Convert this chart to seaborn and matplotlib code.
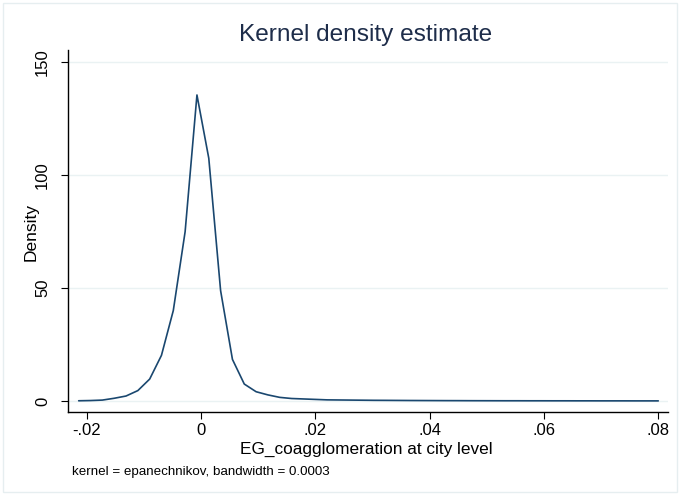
import matplotlib
matplotlib.use("Agg")
import matplotlib.pyplot as plt
import seaborn as sns
import pandas as pd
from matplotlib.patches import Rectangle

# ---- data ----
x_vals = [-0.02140, -0.01933, -0.01726, -0.01519, -0.01312, -0.01105, -0.00898, -0.00692,
          -0.00485, -0.00278, -0.00071, 0.00136, 0.00343, 0.00550, 0.00757, 0.00964,
          0.01170, 0.01378, 0.01585, 0.01792, 0.01999, 0.02206, 0.02413, 0.02619,
          0.02826, 0.03033, 0.03240, 0.03447, 0.03654, 0.03861, 0.04068, 0.04275,
          0.04482, 0.04689, 0.04896, 0.05103, 0.05310, 0.05517, 0.05724, 0.05931,
          0.06138, 0.06344, 0.06551, 0.06758, 0.06965, 0.07172, 0.07379, 0.07586,
          0.07793, 0.08000]
density = [0.1, 0.2, 0.4, 1.2, 2.2, 4.6, 9.7, 20.2, 40.0, 74.9, 135.4, 107.4, 48.8,
           18.4, 7.5, 4.1, 2.7, 1.6, 1.1, 0.9, 0.7, 0.5, 0.45, 0.4, 0.35, 0.3, 0.28,
           0.25, 0.22, 0.2, 0.18, 0.16, 0.15, 0.13, 0.12, 0.11, 0.1, 0.1, 0.09, 0.09,
           0.08, 0.08, 0.07, 0.07, 0.06, 0.06, 0.06, 0.05, 0.05, 0.05]
x_ticks = [-0.02, 0.0, 0.02, 0.04, 0.06, 0.08]
x_tick_labels = ["-.02", "0", ".02", ".04", ".06", ".08"]
y_ticks = [0, 50, 100, 150]
y_tick_labels = ["0", "50", "100", "150"]
title = "Kernel density estimate"
x_label = "EG_coagglomeration at city level"
y_label = "Density"
note = "kernel = epanechnikov, bandwidth = 0.0003"

df = pd.DataFrame({"x": x_vals, "density": density})

sns.set_theme(style="white")
plt.rcParams["font.family"] = ["Liberation Sans", "DejaVu Sans"]

W, H = 680, 495
fig = plt.figure(figsize=(W / 100, H / 100), dpi=100)
fig.patch.set_facecolor("white")
fig.patches.append(Rectangle((3 / W, 3 / H), 674 / W, 489 / H, transform=fig.transFigure,
                             fill=False, edgecolor="#e6eef0", linewidth=1.0))

ax = fig.add_axes([68 / W, 1 - 412 / H, 600 / W, 362 / H])
ax.set_facecolor("white")

for yv in y_ticks:
    ax.axhline(yv, color="#eaf2f3", linewidth=1.0, zorder=0)

sns.lineplot(data=df, x="x", y="density", ax=ax, color="#1a476f", linewidth=1.2)

ax.set_xlim(-0.02327, 0.0817)
ax.set_ylim(-4.87, 155.3)
ax.set_xticks(x_ticks)
ax.set_xticklabels(x_tick_labels)
ax.set_yticks(y_ticks)
ax.set_yticklabels(y_tick_labels, rotation=90, va="center")
ax.set_xlabel("")
ax.set_ylabel("")

for s in ["top", "right"]:
    ax.spines[s].set_visible(False)
for s in ["left", "bottom"]:
    ax.spines[s].set_color("#000000")
    ax.spines[s].set_linewidth(1.0)

ax.tick_params(axis="both", direction="out", length=5, width=0.8, color="#000000",
               labelsize=12, labelcolor="#000000", left=True, bottom=True)
ax.tick_params(axis="y", pad=8)
ax.tick_params(axis="x", pad=3)

renderer = fig.canvas.get_renderer()


def fit_text(x, y, s, target_len, size0, vertical=False, **kw):
    t = fig.text(x / W, 1 - y / H, s, fontsize=size0, **kw)
    ext = t.get_window_extent(renderer=renderer)
    cur = ext.height if vertical else ext.width
    t.set_fontsize(size0 * target_len / cur)
    return t


fit_text(366, 35, title, 254, 16, ha="center", va="center", color="#1e2d4a")
fit_text(366.5, 449, x_label, 253, 11.5, ha="center", va="center", color="#000000")
fit_text(31, 232, y_label, 58, 11.5, vertical=True, ha="center", va="center",
         rotation=90, color="#000000")
fit_text(72, 472, note, 258, 9.5, ha="left", va="center", color="#000000")

fig.savefig("out.png", dpi=100)
